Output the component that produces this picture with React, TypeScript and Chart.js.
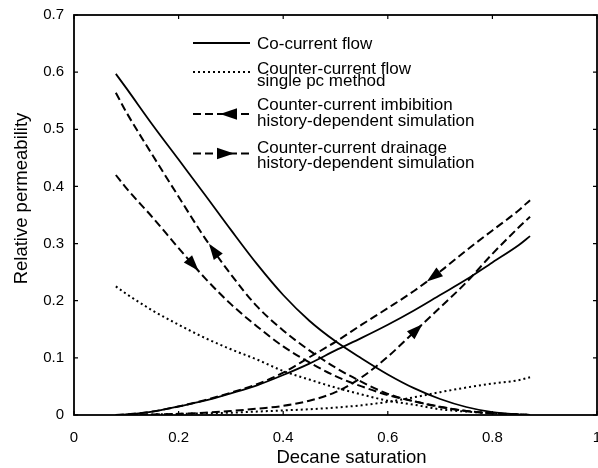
import React, { useEffect, useRef } from 'react';
import { Chart, registerables } from 'chart.js';

Chart.register(...registerables);

// Decane saturation sample points (x)
const saturation = [0.08, 0.1, 0.15, 0.2, 0.25, 0.3, 0.35, 0.4, 0.45, 0.5, 0.55, 0.6, 0.65, 0.7, 0.75, 0.8, 0.85, 0.872];

// Co-current flow (solid)
const coCurrentWater = [0.597, 0.572, 0.508, 0.447, 0.386, 0.324, 0.264, 0.21, 0.165, 0.129, 0.099, 0.071, 0.047, 0.028, 0.014, 0.005, 0.001, 0];
const coCurrentDecane = [0, 0.001, 0.006, 0.015, 0.025, 0.038, 0.052, 0.07, 0.09, 0.113, 0.135, 0.158, 0.183, 0.21, 0.237, 0.267, 0.297, 0.313];

// Counter-current flow, single pc method (dotted)
const singlePcWater = [0.225, 0.212, 0.183, 0.158, 0.135, 0.115, 0.097, 0.077, 0.062, 0.048, 0.036, 0.025, 0.018, 0.01, 0.006, 0.003, 0.001, 0];
const singlePcDecane = [0, 0.0003, 0.001, 0.002, 0.003, 0.004, 0.006, 0.008, 0.01, 0.013, 0.017, 0.023, 0.031, 0.04, 0.048, 0.055, 0.061, 0.066];

// Counter-current imbibition, history-dependent (dashed, arrow towards lower Sd)
const imbibitionWater = [0.564, 0.53, 0.455, 0.382, 0.31, 0.246, 0.19, 0.148, 0.113, 0.083, 0.058, 0.037, 0.024, 0.0146, 0.007, 0.003, 0.001, 0];
const imbibitionDecane = [0, 0.001, 0.006, 0.015, 0.026, 0.039, 0.054, 0.074, 0.101, 0.128, 0.158, 0.187, 0.217, 0.251, 0.288, 0.323, 0.358, 0.376];

// Counter-current drainage, history-dependent (dashed, arrow towards higher Sd)
const drainageWater = [0.42, 0.397, 0.346, 0.292, 0.24, 0.194, 0.155, 0.12, 0.092, 0.068, 0.05, 0.035, 0.024, 0.014, 0.007, 0.003, 0.001, 0];
const drainageDecane = [0, 0, 0.001, 0.002, 0.004, 0.007, 0.011, 0.016, 0.025, 0.04, 0.066, 0.102, 0.145, 0.188, 0.232, 0.282, 0.328, 0.347];

// Arrow markers on curves: saturation where they sit, and direction (+1 = towards higher Sd)
const arrowSeries = [imbibitionWater, drainageWater, imbibitionDecane, drainageDecane];
const arrowSaturation = [0.267, 0.228, 0.687, 0.655];
const arrowDirection = [-1, 1, -1, 1];

// Tick values
const xTicks = [0, 0.2, 0.4, 0.6, 0.8, 1];
const yTicks = [0, 0.1, 0.2, 0.3, 0.4, 0.5, 0.6, 0.7];

const xTitle = 'Decane saturation';
const yTitle = 'Relative permeability';
const legendLabels = [
  ['Co-current flow'],
  ['Counter-current flow', 'single pc method'],
  ['Counter-current imbibition', 'history-dependent simulation'],
  ['Counter-current drainage', 'history-dependent simulation'],
];

const FONT = '"Liberation Sans", Arial, Helvetica, sans-serif';
const fmt = (v: number) => String(Number(Number(v).toFixed(2)));

function interp(series: number[], s: number): number {
  for (let i = 0; i < saturation.length - 1; i++) {
    const a = saturation[i];
    const b = saturation[i + 1];
    if (s >= a && s <= b) {
      const t = (s - a) / (b - a);
      return series[i] + t * (series[i + 1] - series[i]);
    }
  }
  return series[series.length - 1];
}

function drawTriangle(ctx: CanvasRenderingContext2D, x: number, y: number, angle: number, len: number, half: number) {
  ctx.save();
  ctx.translate(x, y);
  ctx.rotate(angle);
  ctx.beginPath();
  ctx.moveTo(len / 2, 0);
  ctx.lineTo(-len / 2, -half);
  ctx.lineTo(-len / 2, half);
  ctx.closePath();
  ctx.fillStyle = '#000';
  ctx.fill();
  ctx.restore();
}

const decorPlugin = {
  id: 'decor',
  afterDraw(chart: any) {
    const ctx: CanvasRenderingContext2D = chart.ctx;
    const xs = chart.scales.x;
    const ys = chart.scales.y;
    const { left, right, top, bottom } = chart.chartArea;
    ctx.save();
    // frame
    ctx.strokeStyle = '#000';
    ctx.lineWidth = 1.8;
    ctx.setLineDash([]);
    ctx.strokeRect(left, top, right - left, bottom - top);
    // inward ticks
    ctx.lineWidth = 1.2;
    const tl = 4;
    ctx.beginPath();
    xTicks.forEach((v) => {
      const px = xs.getPixelForValue(v);
      ctx.moveTo(px, bottom);
      ctx.lineTo(px, bottom - tl);
      ctx.moveTo(px, top);
      ctx.lineTo(px, top + tl);
    });
    yTicks.forEach((v) => {
      const py = ys.getPixelForValue(v);
      ctx.moveTo(left, py);
      ctx.lineTo(left + tl, py);
      ctx.moveTo(right, py);
      ctx.lineTo(right - tl, py);
    });
    ctx.stroke();

    // arrows on curves
    arrowSeries.forEach((series, i) => {
      const s = arrowSaturation[i];
      const px = xs.getPixelForValue(s);
      const py = ys.getPixelForValue(interp(series, s));
      const p1x = xs.getPixelForValue(s - 0.015);
      const p1y = ys.getPixelForValue(interp(series, s - 0.015));
      const p2x = xs.getPixelForValue(s + 0.015);
      const p2y = ys.getPixelForValue(interp(series, s + 0.015));
      let ang = Math.atan2(p2y - p1y, p2x - p1x);
      if (arrowDirection[i] < 0) ang += Math.PI;
      drawTriangle(ctx, px, py, ang, 16, 5.5);
    });

    // legend
    const sx0 = 193;
    const sx1 = 250;
    const sampleY = [43, 72, 114, 153.5];
    const textBaselines = [[48.5], [73.5, 86], [110, 126], [152.5, 168]];
    const styles = [
      { dash: [] as number[], w: 2 },
      { dash: [2, 3], w: 2 },
      { dash: [8, 4], w: 2 },
      { dash: [8, 4], w: 2 },
    ];
    styles.forEach((st, i) => {
      ctx.beginPath();
      ctx.setLineDash(st.dash);
      ctx.lineWidth = st.w;
      ctx.moveTo(sx0, sampleY[i]);
      ctx.lineTo(sx1, sampleY[i]);
      ctx.stroke();
    });
    ctx.setLineDash([]);
    drawTriangle(ctx, 228.5, sampleY[2], Math.PI, 17, 5.8);
    drawTriangle(ctx, 225.5, sampleY[3], 0, 17, 5.8);

    ctx.fillStyle = '#000';
    ctx.font = `17px ${FONT}`;
    ctx.textAlign = 'left';
    ctx.textBaseline = 'alphabetic';
    legendLabels.forEach((lines, i) => {
      lines.forEach((t, j) => ctx.fillText(t, 257, textBaselines[i][j]));
    });

    // axis titles
    ctx.font = `18.5px ${FONT}`;
    ctx.textAlign = 'center';
    ctx.fillText(xTitle, 351.5, 463);
    ctx.save();
    ctx.translate(27, 198.5);
    ctx.rotate(-Math.PI / 2);
    ctx.fillText(yTitle, 0, 0);
    ctx.restore();

    ctx.restore();
  },
};

function dataset(label: string, ys: number[], dash: number[], width: number) {
  return {
    label,
    data: saturation.map((x, i) => ({ x, y: ys[i] })),
    borderColor: '#000',
    backgroundColor: '#000',
    borderWidth: width,
    borderDash: dash,
    borderCapStyle: 'butt' as const,
    pointRadius: 0,
    fill: false,
    cubicInterpolationMode: 'monotone' as const,
  };
}

export default function App() {
  const ref = useRef<HTMLCanvasElement | null>(null);
  useEffect(() => {
    document.body.style.margin = '0';
    document.body.style.overflow = 'hidden';
    document.documentElement.style.overflow = 'hidden';
    const canvas = ref.current;
    if (!canvas) return;
    const chart = new Chart(canvas, {
      type: 'line',
      data: {
        datasets: [
          dataset('Co-current flow (water)', coCurrentWater, [], 1.8),
          dataset('Co-current flow (decane)', coCurrentDecane, [], 1.8),
          dataset('Single pc (water)', singlePcWater, [2, 3], 2),
          dataset('Single pc (decane)', singlePcDecane, [2, 3], 2),
          dataset('Imbibition (water)', imbibitionWater, [8, 4], 2),
          dataset('Imbibition (decane)', imbibitionDecane, [8, 4], 2),
          dataset('Drainage (water)', drainageWater, [8, 4], 2),
          dataset('Drainage (decane)', drainageDecane, [8, 4], 2),
        ],
      },
      options: {
        responsive: false,
        animation: false,
        devicePixelRatio: 1,
        layout: { padding: { left: 0, right: 23, top: 15, bottom: 0 } },
        plugins: { legend: { display: false }, tooltip: { enabled: false } },
        scales: {
          x: {
            type: 'linear',
            min: 0,
            max: 1,
            grid: { display: false, drawTicks: false },
            border: { display: false },
            ticks: {
              stepSize: 0.2,
              padding: 14,
              color: '#000',
              maxRotation: 0,
              autoSkip: false,
              font: { family: FONT, size: 15 },
              callback: (v: any) => fmt(v),
            },
            afterFit: (s: any) => {
              s.height = 53;
              s.paddingLeft = 0;
              s.paddingRight = 0;
            },
          },
          y: {
            type: 'linear',
            min: 0,
            max: 0.7,
            grid: { display: false, drawTicks: false },
            border: { display: false },
            ticks: {
              stepSize: 0.1,
              padding: 10,
              color: '#000',
              autoSkip: false,
              font: { family: FONT, size: 15 },
              callback: (v: any) => fmt(v),
            },
            afterFit: (s: any) => {
              s.width = 74;
              s.paddingTop = 0;
              s.paddingBottom = 0;
            },
          },
        },
      } as any,
      plugins: [decorPlugin],
    });
    return () => chart.destroy();
  }, []);
  return (
    <div style={{ position: 'absolute', left: 0, top: 0, width: 620, height: 468, background: '#fff' }}>
      <canvas ref={ref} width={620} height={468} style={{ display: 'block' }} />
    </div>
  );
}
